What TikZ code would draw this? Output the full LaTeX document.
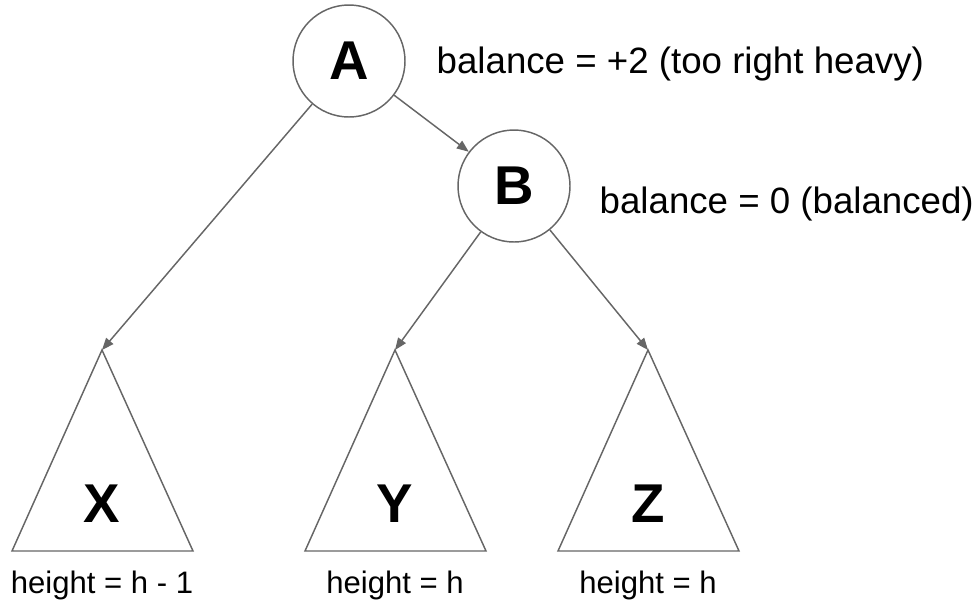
\documentclass[tikz,border=0pt]{standalone}
\usepackage{fontspec}
\setmainfont{Liberation Sans}
\usetikzlibrary{arrows.meta,positioning}
\usepackage{xcolor}
\definecolor{Line}{HTML}{666666}

\begin{document}
\begin{tikzpicture}[x=0.75pt,y=-0.75pt,
    vertex/.style={circle,draw=Line,line width=1.1pt,minimum size=84pt,inner sep=0pt,font=\fontsize{41}{41}\selectfont\bfseries},
    letter/.style={anchor=base,font=\fontsize{41}{41}\selectfont\bfseries},
    note/.style={anchor=base west,font=\fontsize{27.5}{27.5}\selectfont},
    hlabel/.style={anchor=base,font=\fontsize{23.3}{23.3}\selectfont},
    subtree/.style={draw=Line,line width=1.1pt},
    arrow/.style={-{Triangle[length=9pt,width=7pt]},draw=Line,line width=1.1pt}
  ]
    \useasboundingbox (0,0) rectangle (980,608);
    \node[vertex] (A) at (349,61) {A};
    \node[vertex] (B) at (514,186) {B};
    \node[note] (balA) at (432,73) {balance = +2 (too right heavy)};
    \node[note] (balB) at (595,213) {balance = 0 (balanced)};
    \foreach \name/\x/\h in {X/102/h - 1, Y/395/h, Z/648/h} {
      \coordinate (top\name) at (\x,350);
      \draw[subtree] (top\name) -- ++(-90,201) -- ++(181,0) -- cycle;
      \node[letter] (let\name) at (\x,522) {\name};
      \node[hlabel] (ht\name) at (\x,593) {height = \h};
    }
    \draw[arrow] (A) -- (B); \draw[arrow] (A) -- (topX);
    \draw[arrow] (B) -- (topY); \draw[arrow] (B) -- (topZ);
\end{tikzpicture}
\end{document}
